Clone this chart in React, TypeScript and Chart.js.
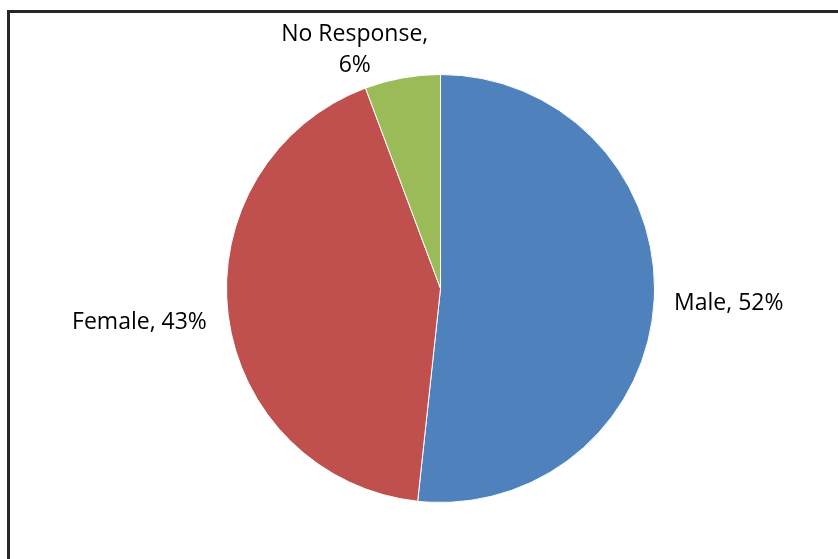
import React, { useEffect, useRef } from "react";
import { Chart, registerables } from "chart.js";

Chart.register(...registerables);

const categories = ["Male", "Female", "No Response"];
const values = [51.7, 42.6, 5.7];
const sliceColors = ["#4F81BD", "#C0504D", "#9BBB59"];

const FONT_SIZE = 23;
const FONT_FAMILY = "'Open Sans', sans-serif";
const LINE_HEIGHT = 31;
const LABEL_GAP = 20;
const MAX_LABEL_WIDTH = 160;
const labelNudge: [number, number][] = [
  [0, 0],
  [-2, 1],
  [-31, 21],
];

const outsideLabels = {
  id: "outsideLabels",
  afterDatasetsDraw(chart: any) {
    const ctx = chart.ctx as CanvasRenderingContext2D;
    const meta = chart.getDatasetMeta(0);
    const data = chart.data.datasets[0].data as number[];
    const total = data.reduce((a, b) => a + b, 0);
    ctx.save();
    ctx.font = `${FONT_SIZE}px ${FONT_FAMILY}`;
    ctx.fillStyle = "#000000";
    ctx.textAlign = "center";
    ctx.textBaseline = "alphabetic";
    const capH = FONT_SIZE * 0.714;
    meta.data.forEach((arc: any, i: number) => {
      const p = arc.getProps(["x", "y", "startAngle", "endAngle", "outerRadius"], true);
      const mid = (p.startAngle + p.endAngle) / 2;
      const cos = Math.cos(mid);
      const sin = Math.sin(mid);
      const pct = Math.round((data[i] / total) * 100);
      const cat = chart.data.labels[i];
      const full = `${cat}, ${pct}%`;
      let lines = [full];
      if (ctx.measureText(full).width > MAX_LABEL_WIDTH) {
        lines = [`${cat},`, `${pct}%`];
      }
      const w = Math.max(...lines.map((l) => ctx.measureText(l).width));
      const h = lines.length * LINE_HEIGHT;
      const ax = p.x + (p.outerRadius + LABEL_GAP) * cos;
      const ay = p.y + (p.outerRadius + LABEL_GAP) * sin;
      const cx = ax + (cos * w) / 2 + labelNudge[i][0];
      const cy = ay + (sin * h) / 2 + labelNudge[i][1];
      lines.forEach((line, j) => {
        const by = cy - ((lines.length - 1) * LINE_HEIGHT) / 2 + j * LINE_HEIGHT + capH / 2;
        ctx.fillText(line, cx, by);
      });
    });
    ctx.restore();
  },
};

export default function App() {
  const canvasRef = useRef<HTMLCanvasElement | null>(null);

  useEffect(() => {
    document.body.style.margin = "0";
    const canvas = canvasRef.current;
    if (!canvas) return;
    const chart = new Chart(canvas, {
      type: "pie",
      data: {
        labels: categories,
        datasets: [
          {
            data: values,
            backgroundColor: sliceColors,
            borderColor: "#ffffff",
            borderWidth: 1,
          },
        ],
      },
      options: {
        responsive: false,
        animation: false,
        devicePixelRatio: 1,
        layout: { padding: { left: 226, top: 74, right: 183, bottom: 56 } },
        plugins: {
          legend: { display: false },
          tooltip: { enabled: false },
          title: { display: false },
        },
      },
      plugins: [outsideLabels],
    });
    return () => chart.destroy();
  }, []);

  return (
    <div style={{ position: "fixed", left: 0, top: 0, width: 838, height: 559, background: "#ffffff", overflow: "hidden" }}>
      <div
        style={{
          position: "absolute",
          left: 7,
          top: 10,
          width: 900,
          height: 700,
          border: "3px solid #262626",
          boxSizing: "border-box",
        }}
      />
      <canvas ref={canvasRef} width={838} height={559} style={{ position: "absolute", left: 0, top: 0, display: "block" }} />
    </div>
  );
}
